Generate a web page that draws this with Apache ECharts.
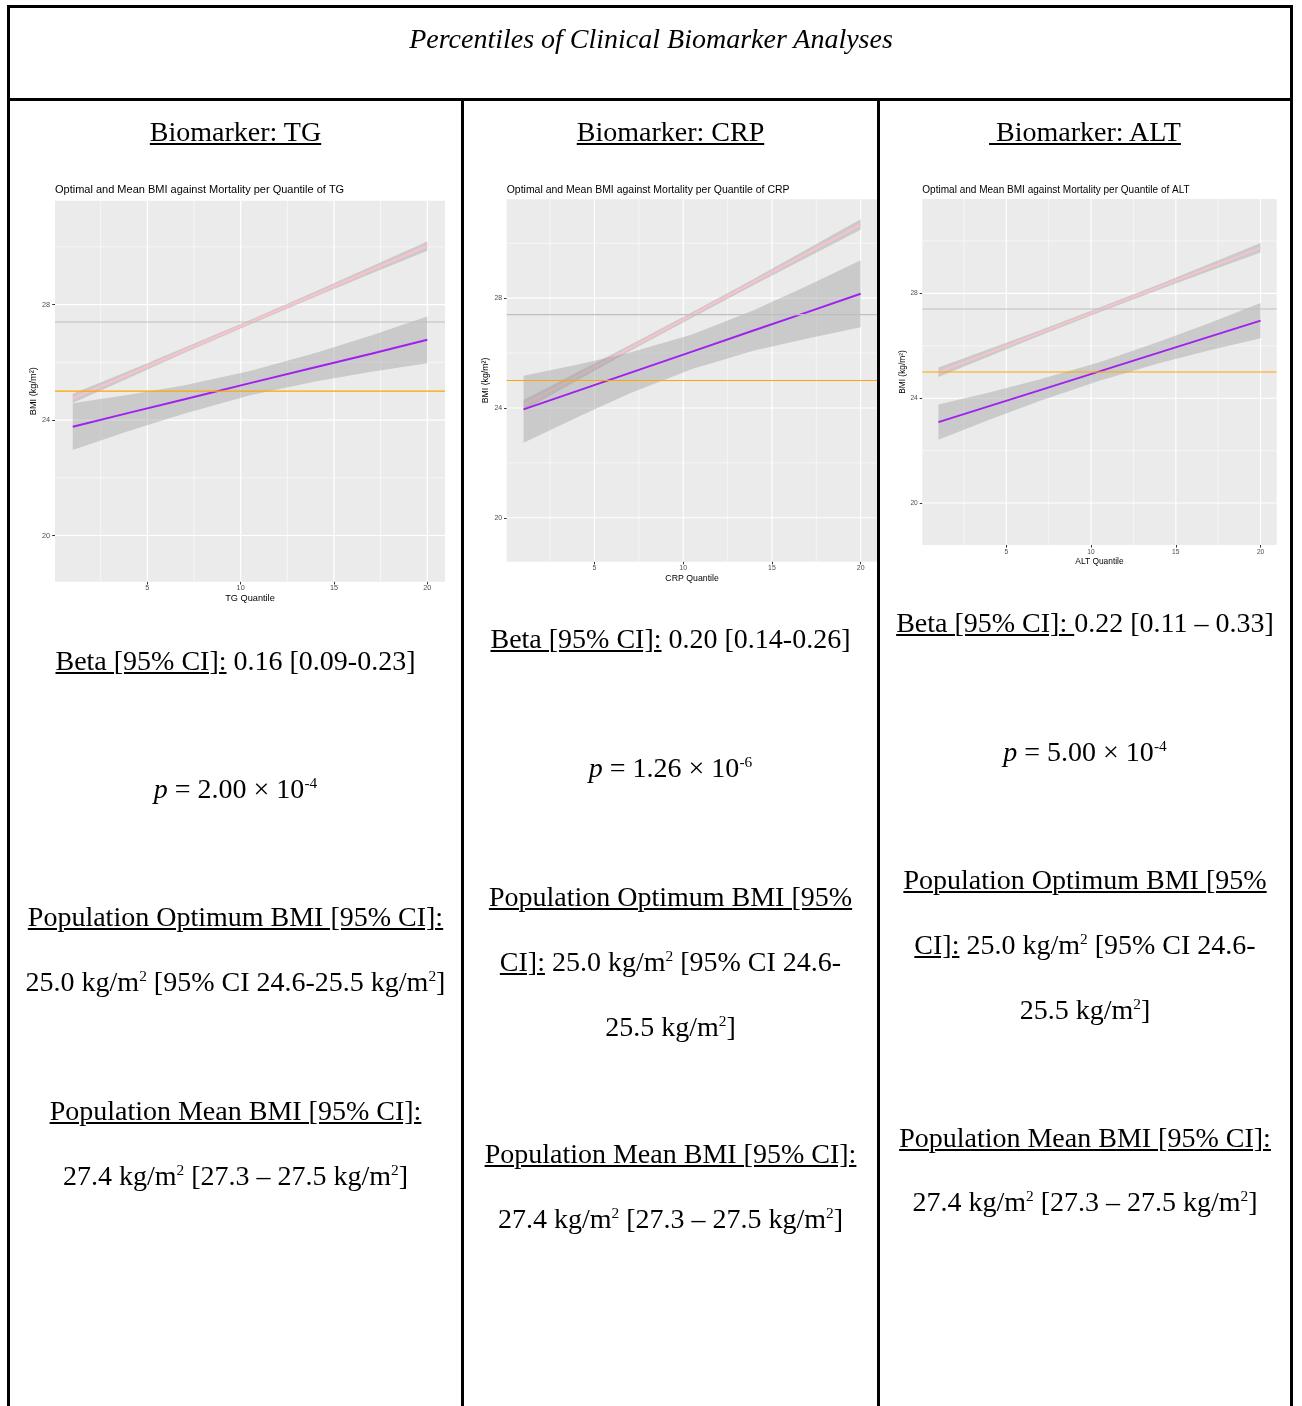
<!DOCTYPE html>
<html>
<head>
<meta charset="utf-8">
<script src="https://cdn.jsdelivr.net/npm/echarts@6/dist/echarts.min.js"></script>
<style>
  html, body { margin: 0; padding: 0; background: #fff; }
  body { width: 1302px; height: 1406px; position: relative; overflow: hidden; }
  #chart { position: absolute; left: 0; top: 0; width: 1302px; height: 1406px; }
  .ln { position: absolute; background: #000; }
  .t { position: absolute; width: 520px; text-align: center; white-space: nowrap;
       font-family: "Liberation Serif", "Times New Roman", serif; font-size: 28px; line-height: 28px; color: #000; }
  .u { text-decoration: underline; text-decoration-thickness: 2px; text-underline-offset: 2px; }
  sup { font-size: 0.55em; vertical-align: 0.62em; line-height: 0; }
</style>
</head>
<body>
<div id="chart"></div>

<!-- table rules -->
<div class="ln" style="left:7px; top:5px; width:1286px; height:3px;"></div>
<div class="ln" style="left:7px; top:98px; width:1286px; height:3px;"></div>
<div class="ln" style="left:7px; top:5px; width:3px; height:1401px;"></div>
<div class="ln" style="left:1290px; top:5px; width:3px; height:1401px;"></div>
<div class="ln" style="left:461px; top:98px; width:3px; height:1308px;"></div>
<div class="ln" style="left:877px; top:98px; width:3px; height:1308px;"></div>

<!-- table text -->
<div class="t" style="left:251px; width:800px; top:25px; font-style:italic;">Percentiles of Clinical Biomarker Analyses</div>

<div class="t" style="left:-24.5px; top:117.6px;"><span class="u">Biomarker: TG</span></div>
<div class="t" style="left:410.5px; top:117.6px;"><span class="u">Biomarker: CRP</span></div>
<div class="t" style="left:825px; top:117.6px;"><span class="u">&nbsp;Biomarker: ALT</span></div>

<!-- column 1 -->
<div class="t" style="left:-24.5px; top:646.6px;"><span class="u">Beta [95% CI]:</span> 0.16 [0.09-0.23]</div>
<div class="t" style="left:-24.5px; top:775.3px;"><i>p</i> = 2.00 × 10<sup>-4</sup></div>
<div class="t" style="left:-24.5px; top:903.3px;"><span class="u">Population Optimum BMI [95% CI]:</span></div>
<div class="t" style="left:-24.5px; top:968.3px;">25.0 kg/m<sup>2</sup> [95% CI 24.6-25.5 kg/m<sup>2</sup>]</div>
<div class="t" style="left:-24.5px; top:1097.3px;"><span class="u">Population Mean BMI [95% CI]:</span></div>
<div class="t" style="left:-24.5px; top:1161.6px;">27.4 kg/m<sup>2</sup> [27.3 – 27.5 kg/m<sup>2</sup>]</div>

<!-- column 2 -->
<div class="t" style="left:410.5px; top:625px;"><span class="u">Beta [95% CI]:</span> 0.20 [0.14-0.26]</div>
<div class="t" style="left:410.5px; top:754px;"><i>p</i> = 1.26 × 10<sup>-6</sup></div>
<div class="t" style="left:410.5px; top:883.3px;"><span class="u">Population Optimum BMI [95%</span></div>
<div class="t" style="left:410.5px; top:948.3px;"><span class="u">CI]:</span> 25.0 kg/m<sup>2</sup> [95% CI 24.6-</div>
<div class="t" style="left:410.5px; top:1013.3px;">25.5 kg/m<sup>2</sup>]</div>
<div class="t" style="left:410.5px; top:1140px;"><span class="u">Population Mean BMI [95% CI]:</span></div>
<div class="t" style="left:410.5px; top:1205px;">27.4 kg/m<sup>2</sup> [27.3 – 27.5 kg/m<sup>2</sup>]</div>

<!-- column 3 -->
<div class="t" style="left:825px; top:609px;"><span class="u">Beta [95% CI]: </span>0.22 [0.11 – 0.33]</div>
<div class="t" style="left:825px; top:738px;"><i>p</i> = 5.00 × 10<sup>-4</sup></div>
<div class="t" style="left:825px; top:866px;"><span class="u">Population Optimum BMI [95%</span></div>
<div class="t" style="left:825px; top:931px;"><span class="u">CI]:</span> 25.0 kg/m<sup>2</sup> [95% CI 24.6-</div>
<div class="t" style="left:825px; top:996px;">25.5 kg/m<sup>2</sup>]</div>
<div class="t" style="left:825px; top:1124px;"><span class="u">Population Mean BMI [95% CI]:</span></div>
<div class="t" style="left:825px; top:1188.3px;">27.4 kg/m<sup>2</sup> [27.3 – 27.5 kg/m<sup>2</sup>]</div>

<script>
// ---------------- data ----------------
const biomarkers = ['TG', 'CRP', 'ALT'];
const quantileX = [1, 4, 7, 10.5, 14, 17, 20];

const xTickLabels = [5, 10, 15, 20];
const xMinorBreaks = [2.5, 7.5, 12.5, 17.5];
const yTickLabels = [20, 24, 28];
const yMinorBreaks = [22, 26, 30];

const optimumBMI = 25.0;   // orange reference line
const meanBMI = 27.4;      // grey reference line

// TG
const tgOptFit  = [24.75, 25.58, 26.42, 27.39, 28.36, 29.20, 30.03];
const tgOptLo   = [24.59, 25.46, 26.33, 27.31, 28.27, 29.08, 29.87];
const tgOptHi   = [24.91, 25.70, 26.51, 27.47, 28.45, 29.32, 30.19];
const tgMeanFit = [23.77, 24.25, 24.72, 25.28, 25.83, 26.30, 26.78];
const tgMeanLo  = [22.96, 23.62, 24.23, 24.86, 25.34, 25.67, 25.97];
const tgMeanHi  = [24.58, 24.88, 25.21, 25.70, 26.32, 26.93, 27.59];
// CRP
const crpOptFit  = [24.10, 25.14, 26.18, 27.39, 28.60, 29.64, 30.68];
const crpOptLo   = [23.91, 24.99, 26.07, 27.29, 28.49, 29.49, 30.49];
const crpOptHi   = [24.29, 25.29, 26.29, 27.49, 28.71, 29.79, 30.87];
const crpMeanFit = [23.95, 24.61, 25.28, 26.05, 26.83, 27.49, 28.16];
const crpMeanLo  = [22.73, 23.65, 24.54, 25.42, 26.09, 26.53, 26.94];
const crpMeanHi  = [25.17, 25.57, 26.02, 26.68, 27.57, 28.45, 29.38];
// ALT
const altOptFit  = [24.99, 25.74, 26.49, 27.37, 28.24, 28.99, 29.74];
const altOptLo   = [24.81, 25.60, 26.39, 27.28, 28.14, 28.85, 29.56];
const altOptHi   = [25.17, 25.88, 26.59, 27.46, 28.34, 29.13, 29.92];
const altMeanFit = [23.09, 23.70, 24.31, 25.02, 25.74, 26.35, 26.96];
const altMeanLo  = [22.42, 23.18, 23.90, 24.67, 25.33, 25.83, 26.29];
const altMeanHi  = [23.76, 24.22, 24.72, 25.37, 26.15, 26.87, 27.63];

const panels = [
  { opt: [tgOptFit, tgOptLo, tgOptHi],   mean: [tgMeanFit, tgMeanLo, tgMeanHi] },
  { opt: [crpOptFit, crpOptLo, crpOptHi], mean: [crpMeanFit, crpMeanLo, crpMeanHi] },
  { opt: [altOptFit, altOptLo, altOptHi], mean: [altMeanFit, altMeanLo, altMeanHi] }
];

// ---------------- layout / style ----------------
const layout = [
  { left: 55,    top: 200.7, width: 390,   height: 381,   s: 1.0,   yGap: 17.5, xGap: 12,  lm: 5, xm: 3 },
  { left: 506.7, top: 199.3, width: 370.8, height: 362.4, s: 0.953, yGap: 15.5, xGap: 12,  lm: 4.5, xm: 2.8 },
  { left: 922.3, top: 199,   width: 354.4, height: 346,   s: 0.913, yGap: 16,   xGap: 12.5, lm: 4.5, xm: 3.5 }
];
const SANS = '"Liberation Sans", Arial, Helvetica, sans-serif';
const RIBBON = 'rgba(153,153,153,0.4)';

const chart = echarts.init(document.getElementById('chart'), null, { renderer: 'canvas' });

const grid = [], xAxis = [], yAxis = [], title = [], series = [];

const pairs = (ys) => quantileX.map((x, k) => [x, ys[k]]);

// horizontal rule across the whole panel at a y value
const hRule = (color, width) => (params, api) => {
  const cs = params.coordSys;
  const y = api.coord([1, api.value(0)])[1];
  return { type: 'line', shape: { x1: cs.x, y1: y, x2: cs.x + cs.width, y2: y },
           style: { stroke: color, lineWidth: width }, silent: true };
};
// vertical rule across the whole panel at an x value
const vRule = (color, width) => (params, api) => {
  const cs = params.coordSys;
  const x = api.coord([api.value(0), 20])[0];
  return { type: 'line', shape: { x1: x, y1: cs.y, x2: x, y2: cs.y + cs.height },
           style: { stroke: color, lineWidth: width }, silent: true };
};

biomarkers.forEach((bm, i) => {
  const L = layout[i];
  grid.push({ left: L.left, top: L.top, width: L.width, height: L.height,
              show: true, backgroundColor: '#EBEBEB', borderWidth: 0, containLabel: false });
  title.push({
    text: 'Optimal and Mean BMI against Mortality per Quantile of ' + bm,
    left: L.left, top: 190 - 5.6 * L.s, padding: 0,
    textStyle: { fontFamily: SANS, fontSize: 11 * L.s, fontWeight: 'normal', color: '#000' }
  });
  xAxis.push({
    gridIndex: i, type: 'value', min: 0.05, max: 20.95,
    name: bm + ' Quantile', nameLocation: 'middle', nameGap: L.xGap,
    nameTextStyle: { fontFamily: SANS, fontSize: 9.2 * L.s, color: '#000' },
    axisLine: { show: false }, splitLine: { show: false },
    axisTick: { show: true, customValues: xTickLabels, length: 2.8 * L.s, lineStyle: { color: '#333', width: 1 } },
    axisLabel: { customValues: xTickLabels, margin: L.xm, fontFamily: SANS, fontSize: 7.3 * L.s, color: '#4D4D4D' }
  });
  yAxis.push({
    gridIndex: i, type: 'value', min: 18.4, max: 31.6,
    name: 'BMI (kg/m²)', nameLocation: 'middle', nameGap: L.yGap, nameRotate: 90,
    nameTextStyle: { fontFamily: SANS, fontSize: 9.2 * L.s, color: '#000' },
    axisLine: { show: false }, splitLine: { show: false },
    axisTick: { show: true, customValues: yTickLabels, length: 2.8 * L.s, lineStyle: { color: '#333', width: 1 } },
    axisLabel: { customValues: yTickLabels, margin: L.lm, fontFamily: SANS, fontSize: 7.3 * L.s, color: '#4D4D4D' }
  });

  const ax = { xAxisIndex: i, yAxisIndex: i };
  const rule = (vals, fn, z) => series.push(Object.assign({
    type: 'custom', data: vals.map(v => [v]), encode: { x: -1, y: -1 }, z: z, silent: true, clip: true,
    renderItem: fn
  }, ax));

  // panel grid lines (minor then major)
  rule(yMinorBreaks, hRule('#FFFFFF', 0.6 * L.s), 1);
  rule(xMinorBreaks, vRule('#FFFFFF', 0.6 * L.s), 1);
  rule(yTickLabels, hRule('#FFFFFF', 1.2 * L.s), 1);
  rule(xTickLabels, vRule('#FFFFFF', 1.2 * L.s), 1);

  const P = panels[i];
  const ribbon = (lo, hi, z) => series.push(Object.assign({
    type: 'custom', data: [[0]], encode: { x: -1, y: -1 }, z: z, silent: true, clip: true,
    renderItem: (params, api) => {
      const pts = [];
      quantileX.forEach((x, k) => pts.push(api.coord([x, hi[k]])));
      for (let k = quantileX.length - 1; k >= 0; k--) pts.push(api.coord([quantileX[k], lo[k]]));
      return { type: 'polygon', shape: { points: pts }, style: { fill: RIBBON, stroke: null }, silent: true };
    }
  }, ax));

  ribbon(P.opt[1], P.opt[2], 2);
  series.push(Object.assign({
    type: 'line', name: 'optimal', data: pairs(P.opt[0]), symbol: 'none', z: 3, silent: true,
    lineStyle: { color: '#FFC0CB', width: 2 * L.s }
  }, ax));
  ribbon(P.mean[1], P.mean[2], 4);
  series.push(Object.assign({
    type: 'line', name: 'mean', data: pairs(P.mean[0]), symbol: 'none', z: 5, silent: true,
    lineStyle: { color: '#A020F0', width: 2 * L.s }
  }, ax));
  // reference lines
  rule([meanBMI], hRule('#BEBEBE', 1.1 * L.s), 6);
  rule([optimumBMI], hRule('#FFA500', 1.2 * L.s), 6);
});

chart.setOption({
  animation: false,
  backgroundColor: 'transparent',
  title, grid, xAxis, yAxis, series
});
</script>
</body>
</html>
